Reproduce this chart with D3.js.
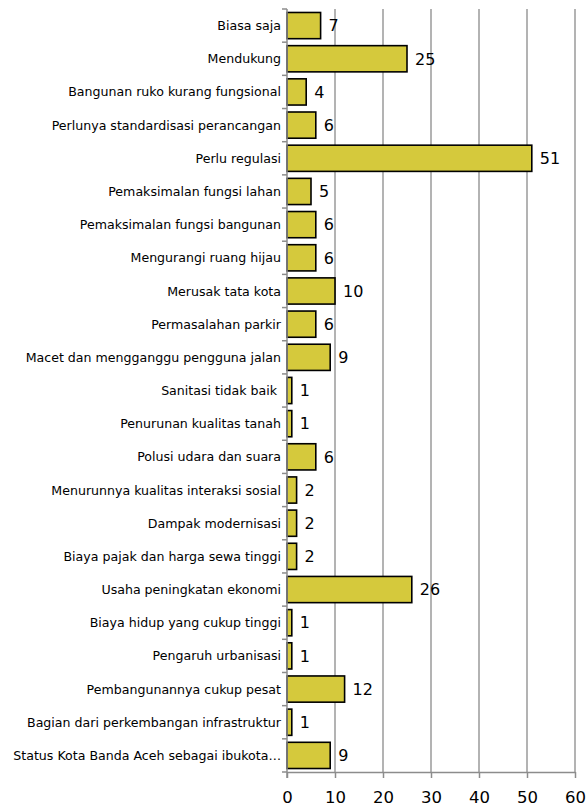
<!DOCTYPE html>
<html>
<head>
<meta charset="utf-8">
<script src="https://cdn.jsdelivr.net/npm/d3@7"></script>
<style>
  body { margin: 0; background: #fff; }
  svg { display: block; }
</style>
</head>
<body>
<div id="chart"></div>
<script>
var width = 588,
    height = 807;

var categories = [
    "Biasa saja",
    "Mendukung",
    "Bangunan ruko kurang fungsional",
    "Perlunya standardisasi perancangan",
    "Perlu regulasi",
    "Pemaksimalan fungsi lahan",
    "Pemaksimalan fungsi bangunan",
    "Mengurangi ruang hijau",
    "Merusak tata kota",
    "Permasalahan parkir",
    "Macet dan mengganggu pengguna jalan",
    "Sanitasi tidak baik ",
    "Penurunan kualitas tanah",
    "Polusi udara dan suara",
    "Menurunnya kualitas interaksi sosial",
    "Dampak modernisasi",
    "Biaya pajak dan harga sewa tinggi",
    "Usaha peningkatan ekonomi",
    "Biaya hidup yang cukup tinggi",
    "Pengaruh urbanisasi",
    "Pembangunannya cukup pesat",
    "Bagian dari perkembangan infrastruktur",
    "Status Kota Banda Aceh sebagai ibukota…"
];
var values = [7, 25, 4, 6, 51, 5, 6, 6, 10, 6, 9, 1, 1, 6, 2, 2, 2, 26, 1, 1, 12, 1, 9];
var xTicks = [0, 10, 20, 30, 40, 50, 60];

var data = categories.map((c, i) => ({ name: c, value: values[i] }));

var margin = { top: 9, right: 13, bottom: 35, left: 287 };

var x = d3.scaleLinear()
    .domain([0, 60])
    .range([margin.left, width - margin.right]);

var y = d3.scaleBand()
    .domain(categories)
    .range([margin.top, height - margin.bottom])
    .paddingInner(0.21)
    .paddingOuter(0.105);

// band boundaries for the little tick marks on the category axis
var step = y.step();
var y0 = margin.top;

const svg = d3.select("#chart").append("svg")
    .attr("width", width)
    .attr("height", height)
    .attr("font-family", "DejaVu Sans, Verdana, sans-serif");

// vertical gridlines
svg.append("g")
    .attr("stroke", "#9a9a9a")
    .attr("stroke-width", 1.5)
    .selectAll("line")
    .data(xTicks.slice(1))
    .join("line")
    .attr("x1", d => x(d))
    .attr("x2", d => x(d))
    .attr("y1", margin.top)
    .attr("y2", height - margin.bottom);

// bars
svg.append("g")
    .selectAll("rect")
    .data(data)
    .join("rect")
    .attr("x", x(0))
    .attr("y", d => y(d.name))
    .attr("width", d => x(d.value) - x(0))
    .attr("height", y.bandwidth())
    .attr("fill", "#d5c93c")
    .attr("stroke", "#000")
    .attr("stroke-width", 1.6);

// value labels
svg.append("g")
    .attr("font-size", 16)
    .attr("fill", "#000")
    .selectAll("text")
    .data(data)
    .join("text")
    .attr("x", d => x(d.value) + 8)
    .attr("y", d => y(d.name) + y.bandwidth() / 2)
    .attr("dy", "0.36em")
    .text(d => d.value);

// category axis line and ticks
const yAxis = svg.append("g")
    .attr("stroke", "#8c8c8c")
    .attr("stroke-width", 1.5);

yAxis.append("line")
    .attr("x1", x(0))
    .attr("x2", x(0))
    .attr("y1", margin.top)
    .attr("y2", height - margin.bottom + 6);

yAxis.selectAll(".tk")
    .data(d3.range(categories.length + 1))
    .join("line")
    .attr("class", "tk")
    .attr("x1", x(0) - 5)
    .attr("x2", x(0))
    .attr("y1", i => y0 + i * step)
    .attr("y2", i => y0 + i * step);

// category labels (one label keeps a trailing space, as in the original)
svg.append("g")
    .attr("font-size", 12.6)
    .attr("fill", "#000")
    .attr("text-anchor", "end")
    .selectAll("text")
    .data(categories)
    .join("text")
    .attr("xml:space", "preserve")
    .style("white-space", "pre")
    .attr("x", x(0) - 6)
    .attr("y", d => y(d) + y.bandwidth() / 2)
    .attr("dy", "0.36em")
    .text(d => d.replace(/ $/, "\u00a0"));

// value axis
const xAxis = svg.append("g")
    .attr("transform", `translate(0,${height - margin.bottom})`)
    .call(d3.axisBottom(x).tickValues(xTicks).tickSize(6).tickSizeOuter(0));

xAxis.select(".domain")
    .attr("stroke", "#8c8c8c")
    .attr("stroke-width", 1.5);
xAxis.selectAll(".tick line")
    .attr("stroke", "#8c8c8c")
    .attr("stroke-width", 1.5);
xAxis.selectAll(".tick text")
    .attr("font-family", "DejaVu Sans, Verdana, sans-serif")
    .attr("font-size", 16.5)
    .attr("fill", "#000")
    .attr("y", 19);
</script>
</body>
</html>
